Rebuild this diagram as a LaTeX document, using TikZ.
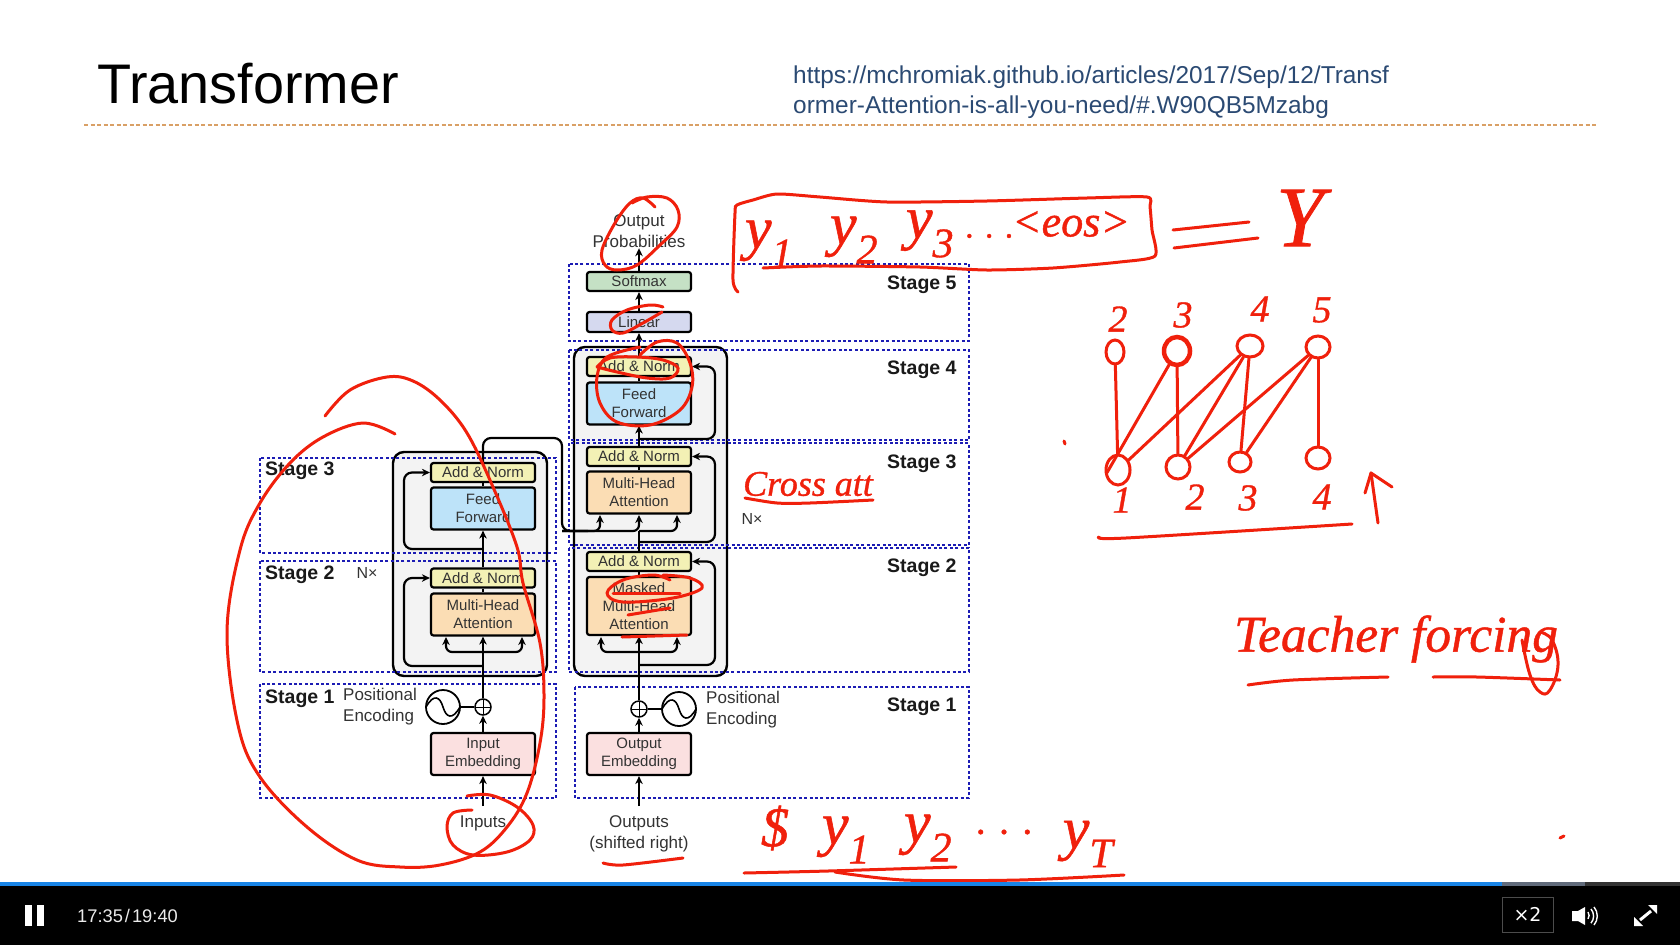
\documentclass[tikz,border=0pt]{standalone}
\usepackage{fontspec}
\setmainfont{Liberation Sans}
\newfontfamily\inkfont[ItalicFeatures={FakeBold=0.9}]{Liberation Serif}
\newfontfamily\barfont{DejaVu Sans}
\usetikzlibrary{arrows.meta,shapes.geometric}
\definecolor{inkred}{HTML}{F0200C}
\definecolor{stageblue}{HTML}{1C1CB4}
\definecolor{urlblue}{HTML}{2B4A73}
\definecolor{ruletan}{HTML}{D9A066}
\definecolor{normfill}{HTML}{F3F1B5}
\definecolor{feedfill}{HTML}{BDE3F9}
\definecolor{attnfill}{HTML}{FBDDB4}
\definecolor{embedfill}{HTML}{FBE0E0}
\definecolor{softfill}{HTML}{C5E1C5}
\definecolor{linearfill}{HTML}{D5D9EF}
\definecolor{layerfill}{HTML}{F3F3F3}
\definecolor{labelgrey}{HTML}{333333}
\tikzset{
  block/.style={draw=black,line width=2.2pt,rounded corners=2.5pt,minimum width=104pt,inner sep=0pt,align=center,text=labelgrey,font=\fontsize{15}{18}\selectfont},
  normbox/.style={block,fill=normfill,minimum height=19pt},
  feedbox/.style={block,fill=feedfill,minimum height=42pt},
  attnbox/.style={block,fill=attnfill,minimum height=42pt},
  embedbox/.style={block,fill=embedfill,minimum height=42pt},
  layerbox/.style={draw=black,line width=2.4pt,fill=layerfill,rounded corners=11pt},
  stagebox/.style={draw=stageblue,line width=1.8pt,dash pattern=on 3pt off 2.4pt},
  stagelabel/.style={font=\fontsize{19.5}{22}\selectfont\bfseries,text=black!90,inner sep=0pt},
  outerlabel/.style={font=\fontsize{17}{21}\selectfont,text=labelgrey,align=center,inner sep=0pt},
  flow/.style={line width=2.2pt,draw=black,-{Stealth[length=8pt,width=7.5pt]}},
  plain/.style={line width=2.2pt,draw=black},
  ink/.style={draw=inkred,line width=3pt,line cap=round,line join=round},
  inktext/.style={text=inkred,inner sep=0pt,font=\inkfont\itshape\fontsize{#1}{#1}\selectfont},
  seat/.style={ellipse,draw=inkred,line width=3pt,inner sep=0pt},
  addsign/.style={circle,draw=black,line width=1.5pt,minimum size=16pt,inner sep=0pt,fill=white,
    path picture={\draw[line width=1pt] (path picture bounding box.north) -- (path picture bounding box.south);
      \draw[line width=1pt] (path picture bounding box.west) -- (path picture bounding box.east);}},
  wavesign/.style={circle,draw=black,line width=1.8pt,minimum size=34pt,inner sep=0pt,
    path picture={\draw[line width=1.6pt,shift={(path picture bounding box.center)}] (-17,0) .. controls (-9,-14) and (-3,-10) .. (0,0) .. controls (3,10) and (9,14) .. (17,0);}}
}
\begin{document}
\begin{tikzpicture}[x=1pt,y=-1pt]
\useasboundingbox (0,0) rectangle (1680,945);
\fill[white] (0,0) rectangle (1680,945);

\node[anchor=west,inner sep=0pt,font=\fontsize{55.8}{60}\selectfont] (title) at (97,84) {Transformer};
\node[anchor=west,inner sep=0pt,text=urlblue,font=\fontsize{24.4}{30}\selectfont] (urlone) at (793,77.5) {https://mchromiak.github.io/articles/2017/Sep/12/Transf};
\node[anchor=west,inner sep=0pt,text=urlblue,font=\fontsize{24.4}{30}\selectfont] (urltwo) at (793,107.5) {ormer-Attention-is-all-you-need/\#.W90QB5Mzabg};
\coordinate (ruleleft) at (84,124.5);
\coordinate (ruleright) at (1596,124.5);
\path[draw=ruletan,line width=2pt,dash pattern=on 4pt off 2.5pt] (ruleleft) -- (ruleright);

\path[layerbox] (393,452) rectangle (547,676);
\path[layerbox] (574,347) rectangle (727,676);

\path[stagebox] (260,458) rectangle (556,553);
\path[stagebox] (260,561) rectangle (556,672);
\path[stagebox] (260,684) rectangle (556,798);
\path[stagebox] (569,264) rectangle (969,341);
\path[stagebox] (569,350) rectangle (969,440);
\path[stagebox] (569,443) rectangle (969,545);
\path[stagebox] (569,548) rectangle (969,672);
\path[stagebox] (575,687) rectangle (969,798);

\node[stagelabel,anchor=west] (encstagec) at (265,471) {Stage 3};
\node[stagelabel,anchor=west] (encstageb) at (265,575) {Stage 2};
\node[stagelabel,anchor=west] (encstagea) at (265,699) {Stage 1};
\node[stagelabel,anchor=west] (decstagee) at (887,285) {Stage 5};
\node[stagelabel,anchor=west] (decstaged) at (887,370) {Stage 4};
\node[stagelabel,anchor=west] (decstagec) at (887,464) {Stage 3};
\node[stagelabel,anchor=west] (decstageb) at (887,568) {Stage 2};
\node[stagelabel,anchor=west] (decstagea) at (887,707) {Stage 1};

\node[normbox] (encnormb) at (483,472.5) {Add \& Norm};
\node[feedbox] (encfeed) at (483,508.5) {Feed\\Forward};
\node[normbox] (encnorma) at (483,578) {Add \& Norm};
\node[attnbox] (encattn) at (483,614.5) {Multi-Head\\Attention};
\node[addsign] (encadd) at (483,707) {};
\node[wavesign] (encwave) at (443,707) {};
\node[embedbox] (encembed) at (483,754) {Input\\Embedding};
\node[outerlabel] (inputs) at (483,823) {Inputs};
\node[outerlabel,align=left,anchor=west] (encpos) at (343,707) {Positional\\Encoding};
\node[outerlabel,font=\fontsize{16}{20}\selectfont] (encnx) at (367,573) {N×};

\node[block,fill=softfill,minimum height=19pt] (softmax) at (639,281.5) {Softmax};
\node[block,fill=linearfill,minimum height=20pt] (linear) at (639,322) {Linear};
\node[normbox] (decnormc) at (639,366.5) {Add \& Norm};
\node[feedbox] (decfeed) at (639,403.5) {Feed\\Forward};
\node[normbox] (decnormb) at (639,456.5) {Add \& Norm};
\node[attnbox] (decattn) at (639,492.5) {Multi-Head\\Attention};
\node[normbox] (decnorma) at (639,561.5) {Add \& Norm};
\node[block,fill=attnfill,minimum height=58pt] (decmask) at (639,606) {Masked\\Multi-Head\\Attention};
\node[addsign] (decadd) at (639,709) {};
\node[wavesign] (decwave) at (679,709) {};
\node[embedbox] (decembed) at (639,754) {Output\\Embedding};
\node[outerlabel] (outputs) at (639,833.5) {Outputs\\(shifted right)};
\node[outerlabel] (probs) at (639,231.5) {Output\\Probabilities};
\node[outerlabel,align=left,anchor=west] (decpos) at (706,710) {Positional\\Encoding};
\node[outerlabel,font=\fontsize{16}{20}\selectfont] (decnx) at (752,519) {N×};

\coordinate (inputfoot) at (483,806);
\coordinate (encloopa) at (483,666);
\coordinate (encsidea) at (404,620);
\coordinate (encfan) at (483,652);
\coordinate (encfanl) at (446,637);
\coordinate (encfanr) at (522,637);
\coordinate (encloopb) at (483,549);
\coordinate (encsideb) at (404,510);
\coordinate (crosstop) at (562,438);
\coordinate (crossmid) at (562,531);
\coordinate (crossbend) at (483,438);
\coordinate (crossl) at (600,515);
\coordinate (crossm) at (639,515);
\coordinate (crossr) at (677,515);
\coordinate (crosstap) at (639,542);
\coordinate (crossrise) at (639,531);
\coordinate (decsideb) at (715,500);
\coordinate (decloopc) at (639,439);
\coordinate (decsidec) at (715,400);
\coordinate (decloopa) at (639,665);
\coordinate (decsidea) at (715,610);
\coordinate (decfan) at (639,652);
\coordinate (decfanl) at (601,637);
\coordinate (decfanr) at (677,637);
\coordinate (outputfoot) at (639,806);

\draw[flow] (inputfoot) -- (encembed);
\draw[flow] (encembed) -- (encadd);
\draw[flow] (encadd) -- (encattn);
\draw[plain] (encwave) -- (encadd);
\draw[plain] (encattn) -- (encnorma);
\draw[flow] (encnorma) -- (encfeed);
\draw[plain] (encfeed) -- (encnormb);
\draw[flow,rounded corners=8pt] (encloopa) -| (encsidea) |- (encnorma.west);
\draw[flow,rounded corners=8pt] (encloopb) -| (encsideb) |- (encnormb.west);
\draw[flow,rounded corners=6pt] (encfan) -| (encfanl);
\draw[flow,rounded corners=6pt] (encfan) -| (encfanr);
\draw[plain,rounded corners=8pt] (encnormb.north) -- (crossbend) -- (crosstop) -- (crossmid) -- (588,531);
\draw[flow,rounded corners=6pt] (crossmid) -| (crossl);
\draw[flow,rounded corners=6pt] (crossmid) -| (crossm);
\draw[flow,rounded corners=6pt] (crossrise) -| (crossr);

\draw[flow] (outputfoot) -- (decembed);
\draw[flow] (decembed) -- (decadd);
\draw[flow] (decadd) -- (decmask);
\draw[plain] (decwave) -- (decadd);
\draw[plain] (decmask) -- (decnorma);
\draw[plain] (decnorma) -- (crossrise);
\draw[plain] (decattn) -- (decnormb);
\draw[flow] (decnormb) -- (decfeed);
\draw[plain] (decfeed) -- (decnormc);
\draw[flow] (decnormc) -- (linear);
\draw[flow] (linear) -- (softmax);
\draw[flow] (softmax) -- (probs);
\draw[flow,rounded corners=8pt] (decloopa) -| (decsidea) |- (decnorma.east);
\draw[flow,rounded corners=8pt] (crosstap) -| (decsideb) |- (decnormb.east);
\draw[flow,rounded corners=8pt] (decloopc) -| (decsidec) |- (decnormc.east);
\draw[flow,rounded corners=6pt] (decfan) -| (decfanl);
\draw[flow,rounded corners=6pt] (decfan) -| (decfanr);

\draw[ink] plot[smooth,tension=0.6] coordinates {(325,416) (350,390) (387,377) (413,381) (440,400) (467,433) (493,487) (517,547) (523,583) (540,643) (544,697) (540,743) (527,793) (507,827) (480,852) (440,865) (400,867) (357,860) (307,827) (260,777) (238,725) (227,632) (240,550) (260,503) (290,463) (323,437) (363,423) (395,434)};
\draw[ink] plot[smooth,tension=0.6] coordinates {(467,796) (490,795) (517,807) (533,825) (530,840) (507,852) (473,855) (453,845) (447,827) (453,813) (472,810)};
\draw[ink] plot[smooth] coordinates {(603,863) (623,865) (683,858)};
\draw[ink] plot[smooth,tension=0.6] coordinates {(655,207) (643,198) (630,203) (615,223) (602,250) (605,265) (617,270) (637,265) (660,245) (677,227) (678,210) (667,198) (647,197) (632,203)};
\draw[ink] plot[smooth,tension=0.6] coordinates {(663,307) (650,305) (627,310) (612,320) (612,330) (623,333) (643,323) (662,312)};
\draw[ink] plot[smooth,tension=0.6] coordinates {(597,367) (610,358) (637,357) (663,360) (678,368) (670,378) (647,378) (617,372) (597,367)};
\draw[ink] plot[smooth,tension=0.6] coordinates {(640,355) (657,342) (677,343) (690,363) (692,387) (680,410) (650,425) (617,422) (600,403) (597,377) (607,357) (640,347)};
\draw[ink] plot[smooth,tension=0.6] coordinates {(670,580) (653,575) (623,580) (607,593) (623,602) (673,598) (702,588) (690,578) (663,575)};
\draw[ink] (613,593) -- (680,593);
\draw[ink] (628,615) -- (670,608);
\draw[ink] (622,637) -- (687,635);

\draw[ink] plot[smooth,tension=0.4] coordinates {(738,292) (733,280) (735,213) (737,205) (753,200) (777,194) (820,197) (887,202) (987,201) (1087,198) (1147,197) (1150,207) (1152,230) (1155,256) (1120,262) (1053,268) (987,270) (920,267) (820,266) (763,268)};
\node[inktext=60] (topya) at (769,244) {y\textsubscript{1}};
\node[inktext=60] (topyb) at (854,240) {y\textsubscript{2}};
\node[inktext=60] (topyc) at (930,234) {y\textsubscript{3}};
\node[inktext=34] (topdots) at (990,236) {. . .};
\node[inktext=44] (topeos) at (1071,224) {<eos>};
\draw[ink] (1173,230) -- (1249,222);
\draw[ink] (1174,248) -- (1258,238);
\node[inktext=86] (topbig) at (1300,218) {Y};

\node[inktext=38] (upa) at (1118,319) {2};
\node[inktext=38] (upb) at (1183,315) {3};
\node[inktext=38] (upc) at (1260,309) {4};
\node[inktext=38] (upd) at (1322,310) {5};
\node[seat,minimum width=18pt,minimum height=24pt] (seatup) at (1115,352) {};
\node[seat,line width=4.5pt,minimum width=26pt,minimum height=28pt] (seatuq) at (1177,351) {};
\node[seat,minimum width=26pt,minimum height=22pt] (seatur) at (1250,346) {};
\node[seat,minimum width=24pt,minimum height=22pt] (seatus) at (1318,347) {};
\node[seat,minimum width=24pt,minimum height=30pt] (seatlp) at (1118,470) {};
\node[seat,minimum width=24pt,minimum height=24pt] (seatlq) at (1178,467) {};
\node[seat,minimum width=22pt,minimum height=20pt] (seatlr) at (1240,462) {};
\node[seat,minimum width=24pt,minimum height=22pt] (seatls) at (1318,458) {};
\draw[ink] (seatup) -- (seatlp);
\draw[ink,shorten >=-22pt] (seatuq) -- (seatlp.north);
\draw[ink] (seatur) -- (seatlp);
\draw[ink] (seatuq) -- (seatlq);
\draw[ink] (seatur) -- (seatlq);
\draw[ink] (seatus) -- (seatlq);
\draw[ink] (seatur) -- (seatlr);
\draw[ink] (seatus) -- (seatlr);
\draw[ink] (seatus) -- (seatls);
\node[inktext=38] (loa) at (1122,500) {1};
\node[inktext=38] (lob) at (1195,497) {2};
\node[inktext=38] (loc) at (1248,498) {3};
\node[inktext=38] (lod) at (1322,497) {4};
\draw[ink] plot[smooth] coordinates {(1099,537) (1126,538) (1352,524)};
\draw[ink] (1378,523) -- (1371,473);
\draw[ink] (1365,493) -- (1371,473) -- (1392,487);
\draw[ink] (1064,441) -- (1065,444);
\draw[ink] (1560,838) -- (1564,836);

\node[inktext=36] (crossword) at (808,484) {Cross att};
\draw[ink] plot[smooth] coordinates {(745,498) (777,503) (810,503) (873,500)};

\node[inktext=51.5] (teacherword) at (1396,639) {Teacher forcing};
\draw[ink] plot[smooth] coordinates {(1248,685) (1293,680) (1388,677)};
\draw[ink] plot[smooth] coordinates {(1433,677) (1477,677) (1560,680)};
\draw[ink] plot[smooth,tension=0.7] coordinates {(1522,640) (1530,675) (1540,692) (1550,690) (1558,665) (1552,640) (1540,632)};

\node[inktext=56] (dollar) at (775,828) {\$};
\node[inktext=60] (lowya) at (846,840) {y\textsubscript{1}};
\node[inktext=60] (lowyb) at (928,838) {y\textsubscript{2}};
\node[inktext=40] (lowdots) at (1005,832) {. . .};
\node[inktext=60] (lowyt) at (1088,844) {y\textsubscript{T}};
\draw[ink] plot[smooth] coordinates {(744,873) (828,871) (956,867)};
\draw[ink] plot[smooth] coordinates {(835,872) (904,880) (1019,880) (1124,875)};

\fill[black] (0,886) rectangle (1680,945);
\fill[fill=black!80] (1585,882) rectangle (1680,886);
\fill[fill={rgb,255:red,96;green,106;blue,122}] (1502,882) rectangle (1585,886);
\fill[fill={rgb,255:red,24;green,132;blue,230}] (0,882) rectangle (1502,886);
\fill[white] (25.3,905) rectangle (32.3,925.7);
\fill[white] (37.3,905) rectangle (44.3,925.7);
\node[anchor=west,inner sep=0pt,text=black!8,font=\fontsize{18.3}{20}\selectfont] (clock) at (77,915.7) {{\spaceskip=2pt 17:35 / 19:40}};
\node[draw=black!70!white,line width=1pt,minimum width=51pt,minimum height=35pt,inner sep=0pt,text=white,font=\barfont\fontsize{19}{20}\selectfont] (speed) at (1527.5,914.5) {×2};
\fill[white] (1572,911) -- (1578,911) -- (1585,907) -- (1585,925) -- (1578,921) -- (1572,921) -- cycle;
\draw[white,line width=1.4pt] (1588,912) arc[start angle=-35,end angle=35,radius=6];
\draw[white,line width=1.4pt] (1591,909) arc[start angle=-40,end angle=40,radius=11];
\draw[white,line width=1.4pt] (1594,907) arc[start angle=-40,end angle=40,radius=14];
\fill[white] (1657,905) -- (1657,914) -- (1648,905) -- cycle;
\fill[white] (1634,926) -- (1634,917) -- (1643,926) -- cycle;
\draw[white,line width=3pt] (1651,911) -- (1640,920);
\end{tikzpicture}
\end{document}
